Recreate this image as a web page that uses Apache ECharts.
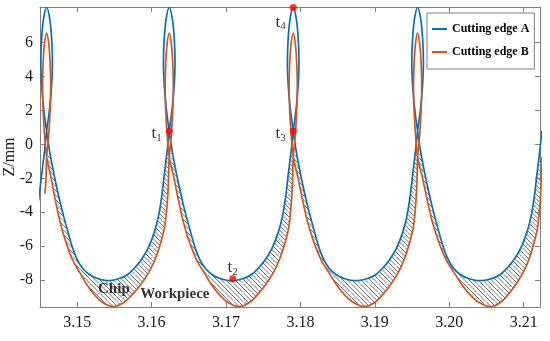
<!DOCTYPE html>
<html><head><meta charset="utf-8">
<script src="https://cdn.jsdelivr.net/npm/echarts@6/dist/echarts.min.js"></script>
<style>html,body{margin:0;padding:0;background:#fff}#c{width:550px;height:341px}</style>
</head><body><div id="c"></div>
<script>
const xTicks = [3.15, 3.16, 3.17, 3.18, 3.19, 3.20, 3.21];
const yTicks = [-8, -6, -4, -2, 0, 2, 4, 6];
const seriesNames = ['Cutting edge A', 'Cutting edge B'];

const edgeA = [
[3.14481,-3.3],[3.14522,-1.8],[3.14558,-0.5],[3.14589,0.79],
[3.14627,2.03],[3.14656,3.5],[3.14667,4.85],[3.14656,6.26],[3.14629,7.44],[3.14589,8.06],[3.14549,7.44],[3.14522,6.26],[3.14511,4.85],[3.14522,3.5],[3.14551,2.03],[3.14589,0.79],
[3.14629,-0.4],[3.14676,-1.5],[3.14723,-2.5],[3.14770,-3.4],[3.14822,-4.3],[3.14878,-5.2],[3.14938,-6.1],[3.15002,-6.8],[3.15073,-7.3],[3.15167,-7.68],[3.15274,-7.9],[3.15413,-8.03],
[3.15565,-7.9],[3.15672,-7.68],[3.15767,-7.3],[3.15861,-6.8],[3.15955,-6.1],[3.16035,-5.2],[3.16089,-4.3],[3.16129,-3.3],[3.16170,-1.8],[3.16206,-0.5],[3.16237,0.79],
[3.16275,2.03],[3.16304,3.5],[3.16315,4.85],[3.16304,6.26],[3.16277,7.44],[3.16237,8.06],[3.16197,7.44],[3.16170,6.26],[3.16159,4.85],[3.16170,3.5],[3.16199,2.03],[3.16237,0.79],
[3.16277,-0.4],[3.16324,-1.5],[3.16371,-2.5],[3.16418,-3.4],[3.16470,-4.3],[3.16526,-5.2],[3.16586,-6.1],[3.16650,-6.8],[3.16721,-7.3],[3.16815,-7.68],[3.16922,-7.9],[3.17070,-8.03],
[3.17231,-7.9],[3.17338,-7.68],[3.17433,-7.3],[3.17527,-6.8],[3.17621,-6.1],[3.17701,-5.2],[3.17755,-4.3],[3.17795,-3.3],[3.17836,-1.8],[3.17872,-0.5],[3.17903,0.79],
[3.17941,2.03],[3.17970,3.5],[3.17981,4.85],[3.17970,6.26],[3.17943,7.44],[3.17903,8.06],[3.17863,7.44],[3.17836,6.26],[3.17825,4.85],[3.17836,3.5],[3.17865,2.03],[3.17903,0.79],
[3.17943,-0.4],[3.17990,-1.5],[3.18037,-2.5],[3.18084,-3.4],[3.18136,-4.3],[3.18192,-5.2],[3.18252,-6.1],[3.18316,-6.8],[3.18387,-7.3],[3.18481,-7.68],[3.18588,-7.9],[3.18739,-8.03],
[3.18903,-7.9],[3.19010,-7.68],[3.19105,-7.3],[3.19199,-6.8],[3.19293,-6.1],[3.19373,-5.2],[3.19427,-4.3],[3.19467,-3.3],[3.19508,-1.8],[3.19544,-0.5],[3.19575,0.79],
[3.19613,2.03],[3.19642,3.5],[3.19653,4.85],[3.19642,6.26],[3.19615,7.44],[3.19575,8.06],[3.19535,7.44],[3.19508,6.26],[3.19497,4.85],[3.19508,3.5],[3.19537,2.03],[3.19575,0.79],
[3.19615,-0.4],[3.19662,-1.5],[3.19709,-2.5],[3.19756,-3.4],[3.19808,-4.3],[3.19864,-5.2],[3.19924,-6.1],[3.19988,-6.8],[3.20059,-7.3],[3.20153,-7.68],[3.20260,-7.9],[3.20410,-8.03],
[3.20573,-7.9],[3.20680,-7.68],[3.20775,-7.3],[3.20869,-6.8],[3.20963,-6.1],[3.21043,-5.2],[3.21097,-4.3],[3.21137,-3.3],[3.21178,-1.8],[3.21214,-0.5],[3.21245,0.79]
];

const edgeB = [
[3.14566,-2.9],[3.14581,-2.0],[3.14589,-0.74],
[3.14616,0.5],[3.14636,1.96],[3.14644,3.42],[3.14636,4.81],[3.14617,5.94],[3.14589,6.56],[3.14561,5.94],[3.14542,4.81],[3.14534,3.42],[3.14542,1.96],[3.14562,0.5],[3.14589,-0.74],
[3.14650,-2.0],[3.14707,-3.3],[3.14768,-4.54],[3.14844,-5.7],[3.14938,-6.8],[3.15041,-7.6],[3.15135,-8.3],[3.15229,-8.85],[3.15336,-9.3],[3.15484,-9.56],
[3.15631,-9.3],[3.15740,-8.85],[3.15847,-8.3],[3.15954,-7.6],[3.16045,-6.8],[3.16122,-5.8],[3.16176,-4.84],[3.16213,-3.3],[3.16228,-2.0],[3.16237,-0.74],
[3.16264,0.5],[3.16284,1.96],[3.16292,3.42],[3.16284,4.81],[3.16265,5.94],[3.16237,6.56],[3.16209,5.94],[3.16190,4.81],[3.16182,3.42],[3.16190,1.96],[3.16210,0.5],[3.16237,-0.74],
[3.16301,-2.0],[3.16361,-3.3],[3.16425,-4.54],[3.16505,-5.7],[3.16604,-6.8],[3.16712,-7.6],[3.16811,-8.3],[3.16909,-8.85],[3.17022,-9.3],[3.17177,-9.56],
[3.17320,-9.3],[3.17424,-8.85],[3.17527,-8.3],[3.17631,-7.6],[3.17718,-6.8],[3.17793,-5.8],[3.17845,-4.84],[3.17880,-3.3],[3.17895,-2.0],[3.17903,-0.74],
[3.17930,0.5],[3.17950,1.96],[3.17958,3.42],[3.17950,4.81],[3.17931,5.94],[3.17903,6.56],[3.17875,5.94],[3.17856,4.81],[3.17848,3.42],[3.17856,1.96],[3.17876,0.5],[3.17903,-0.74],
[3.17969,-2.0],[3.18030,-3.3],[3.18095,-4.54],[3.18177,-5.7],[3.18278,-6.8],[3.18389,-7.6],[3.18490,-8.3],[3.18590,-8.85],[3.18706,-9.3],[3.18864,-9.56],
[3.19004,-9.3],[3.19106,-8.85],[3.19207,-8.3],[3.19309,-7.6],[3.19394,-6.8],[3.19467,-5.8],[3.19519,-4.84],[3.19553,-3.3],[3.19568,-2.0],[3.19575,-0.74],
[3.19602,0.5],[3.19622,1.96],[3.19630,3.42],[3.19622,4.81],[3.19603,5.94],[3.19575,6.56],[3.19547,5.94],[3.19528,4.81],[3.19520,3.42],[3.19528,1.96],[3.19548,0.5],[3.19575,-0.74],
[3.19642,-2.0],[3.19705,-3.3],[3.19772,-4.54],[3.19855,-5.7],[3.19959,-6.8],[3.20072,-7.6],[3.20175,-8.3],[3.20278,-8.85],[3.20396,-9.3],[3.20558,-9.56],
[3.20693,-9.3],[3.20791,-8.85],[3.20889,-8.3],[3.20987,-7.6],[3.21070,-6.8],[3.21140,-5.8],[3.21190,-4.84],[3.21223,-3.3],[3.21237,-2.0],[3.21245,-0.74]
];

const keyPoints = [[3.16237, 0.79], [3.1709, -7.92], [3.17903, 0.79], [3.17903, 8.06]];
const keyLabels = ['1', '2', '3', '4'];
const notePoints = [[3.15493, -8.5], [3.16313, -8.85]];
const noteLabels = ['Chip', 'Workpiece'];

const serif = '"Liberation Serif", "Times New Roman", serif';
const axisColor = '#808080';

function runsBelow(pts, thr) {
  const out = []; let cur = [];
  for (const p of pts) {
    if (p[1] < thr) cur.push(p);
    else { if (cur.length) out.push(cur); cur = []; }
  }
  if (cur.length) out.push(cur);
  return out.filter(r => r.length >= 6);
}
const runsA = runsBelow(edgeA, -0.3);
const runsB = runsBelow(edgeB, -0.7);
const hatchPolys = runsA.map((r, i) => r.concat(runsB[i].slice().reverse()));

const pc = document.createElement('canvas');
pc.width = 9; pc.height = 9;
const g = pc.getContext('2d');
g.strokeStyle = '#707070'; g.lineWidth = 1;
g.beginPath();
for (const c of [-9, -4.5, 0, 4.5, 9]) { g.moveTo(0, c); g.lineTo(9, 9 + c); }
g.stroke();
const hatchFill = { image: pc, repeat: 'repeat' };

const chart = echarts.init(document.getElementById('c'), null, { renderer: 'canvas' });

function xAxisDef(pos, labels) {
  return {
    type: 'value', min: 3.145, max: 3.2122, position: pos,
    axisLine: { show: true, onZero: false, lineStyle: { color: axisColor, width: 1 } },
    axisTick: { show: true, inside: true, length: 5, customValues: xTicks, lineStyle: { color: axisColor } },
    axisLabel: { show: labels, customValues: xTicks, formatter: v => Number(v).toFixed(2),
      fontFamily: serif, fontSize: 16, color: '#1a1a1a', margin: 8 },
    splitLine: { show: false }
  };
}
function yAxisDef(pos, labels) {
  const a = {
    type: 'value', min: -9.58, max: 8.09, position: pos,
    axisLine: { show: true, onZero: false, lineStyle: { color: axisColor, width: 1 } },
    axisTick: { show: true, inside: true, length: 5, customValues: yTicks, lineStyle: { color: axisColor } },
    axisLabel: { show: labels, customValues: yTicks, formatter: v => String(v),
      fontFamily: serif, fontSize: 16, color: '#1a1a1a', margin: 7 },
    splitLine: { show: false }
  };
  if (labels) {
    a.name = 'Z/mm'; a.nameLocation = 'middle'; a.nameGap = 22; a.nameRotate = 90;
    a.nameMoveOverlap = false;
    a.nameTextStyle = { fontFamily: serif, fontSize: 16, color: '#1a1a1a' };
  }
  return a;
}

const labelPos = [
  { position: 'left', distance: 4, offset: [0, 3] },
  { position: 'top', distance: 0, offset: [0, 2] },
  { position: 'left', distance: 4, offset: [0, 3] },
  { position: 'left', distance: 4, offset: [0, 15] }
];

chart.setOption({
  animation: false,
  backgroundColor: '#fff',
  grid: { left: 40, right: 10, top: 7, bottom: 34, containLabel: false, outerBoundsMode: 'none' },
  legend: {
    data: seriesNames, orient: 'vertical', left: 427, top: 13,
    itemWidth: 15, itemHeight: 2, icon: 'rect', itemGap: 9,
    padding: [9, 5, 10, 5], borderColor: '#7f7f7f', borderWidth: 1, borderRadius: 0,
    backgroundColor: '#fff', selectedMode: false,
    textStyle: { fontFamily: serif, fontSize: 12, fontWeight: 'bold', color: '#000', lineHeight: 14 }
  },
  xAxis: [xAxisDef('bottom', true), xAxisDef('top', false)],
  yAxis: [yAxisDef('left', true), yAxisDef('right', false)],
  series: [
    {
      type: 'custom', name: 'hatch', coordinateSystem: 'cartesian2d', xAxisIndex: 0, yAxisIndex: 0,
      data: hatchPolys.map(p => p[Math.floor(p.length / 4)]),
      silent: true, z: 1,
      renderItem: (params, api) => {
        const pts = hatchPolys[params.dataIndex].map(p => api.coord(p));
        const cs = params.coordSys;
        return {
          type: 'polygon',
          shape: { points: echarts.graphic.clipPointsByRect(pts, { x: cs.x, y: cs.y, width: cs.width, height: cs.height }) },
          style: { fill: hatchFill, stroke: null }
        };
      }
    },
    {
      type: 'line', name: seriesNames[0], data: edgeA, showSymbol: false, smooth: 0.35,
      lineStyle: { width: 1.7, color: '#0072BD' }, itemStyle: { color: '#0072BD' }, z: 3
    },
    {
      type: 'line', name: seriesNames[1], data: edgeB, showSymbol: false, smooth: 0.35,
      lineStyle: { width: 1.7, color: '#D95319' }, itemStyle: { color: '#D95319' }, z: 3
    },
    {
      type: 'scatter', name: 'keys', symbolSize: 7, z: 5,
      itemStyle: { color: '#ff0000' },
      data: keyPoints.map((p, i) => ({ value: p, label: labelPos[i] })),
      label: {
        show: true,
        formatter: p => '{t|t}{s|' + keyLabels[p.dataIndex] + '}',
        rich: {
          t: { fontFamily: serif, fontSize: 17, color: '#000' },
          s: { fontFamily: serif, fontSize: 11, color: '#000', verticalAlign: 'bottom', padding: [8, 0, 0, 0] }
        }
      }
    },
    {
      type: 'scatter', name: 'notes', symbolSize: 0, z: 6, silent: true,
      data: notePoints.map((p, i) => ({ value: p, name: noteLabels[i] })),
      label: {
        show: true, position: 'inside', formatter: p => noteLabels[p.dataIndex],
        fontFamily: serif, fontSize: 15, fontWeight: 'bold', color: '#000'
      }
    }
  ]
});
</script>
</body></html>
